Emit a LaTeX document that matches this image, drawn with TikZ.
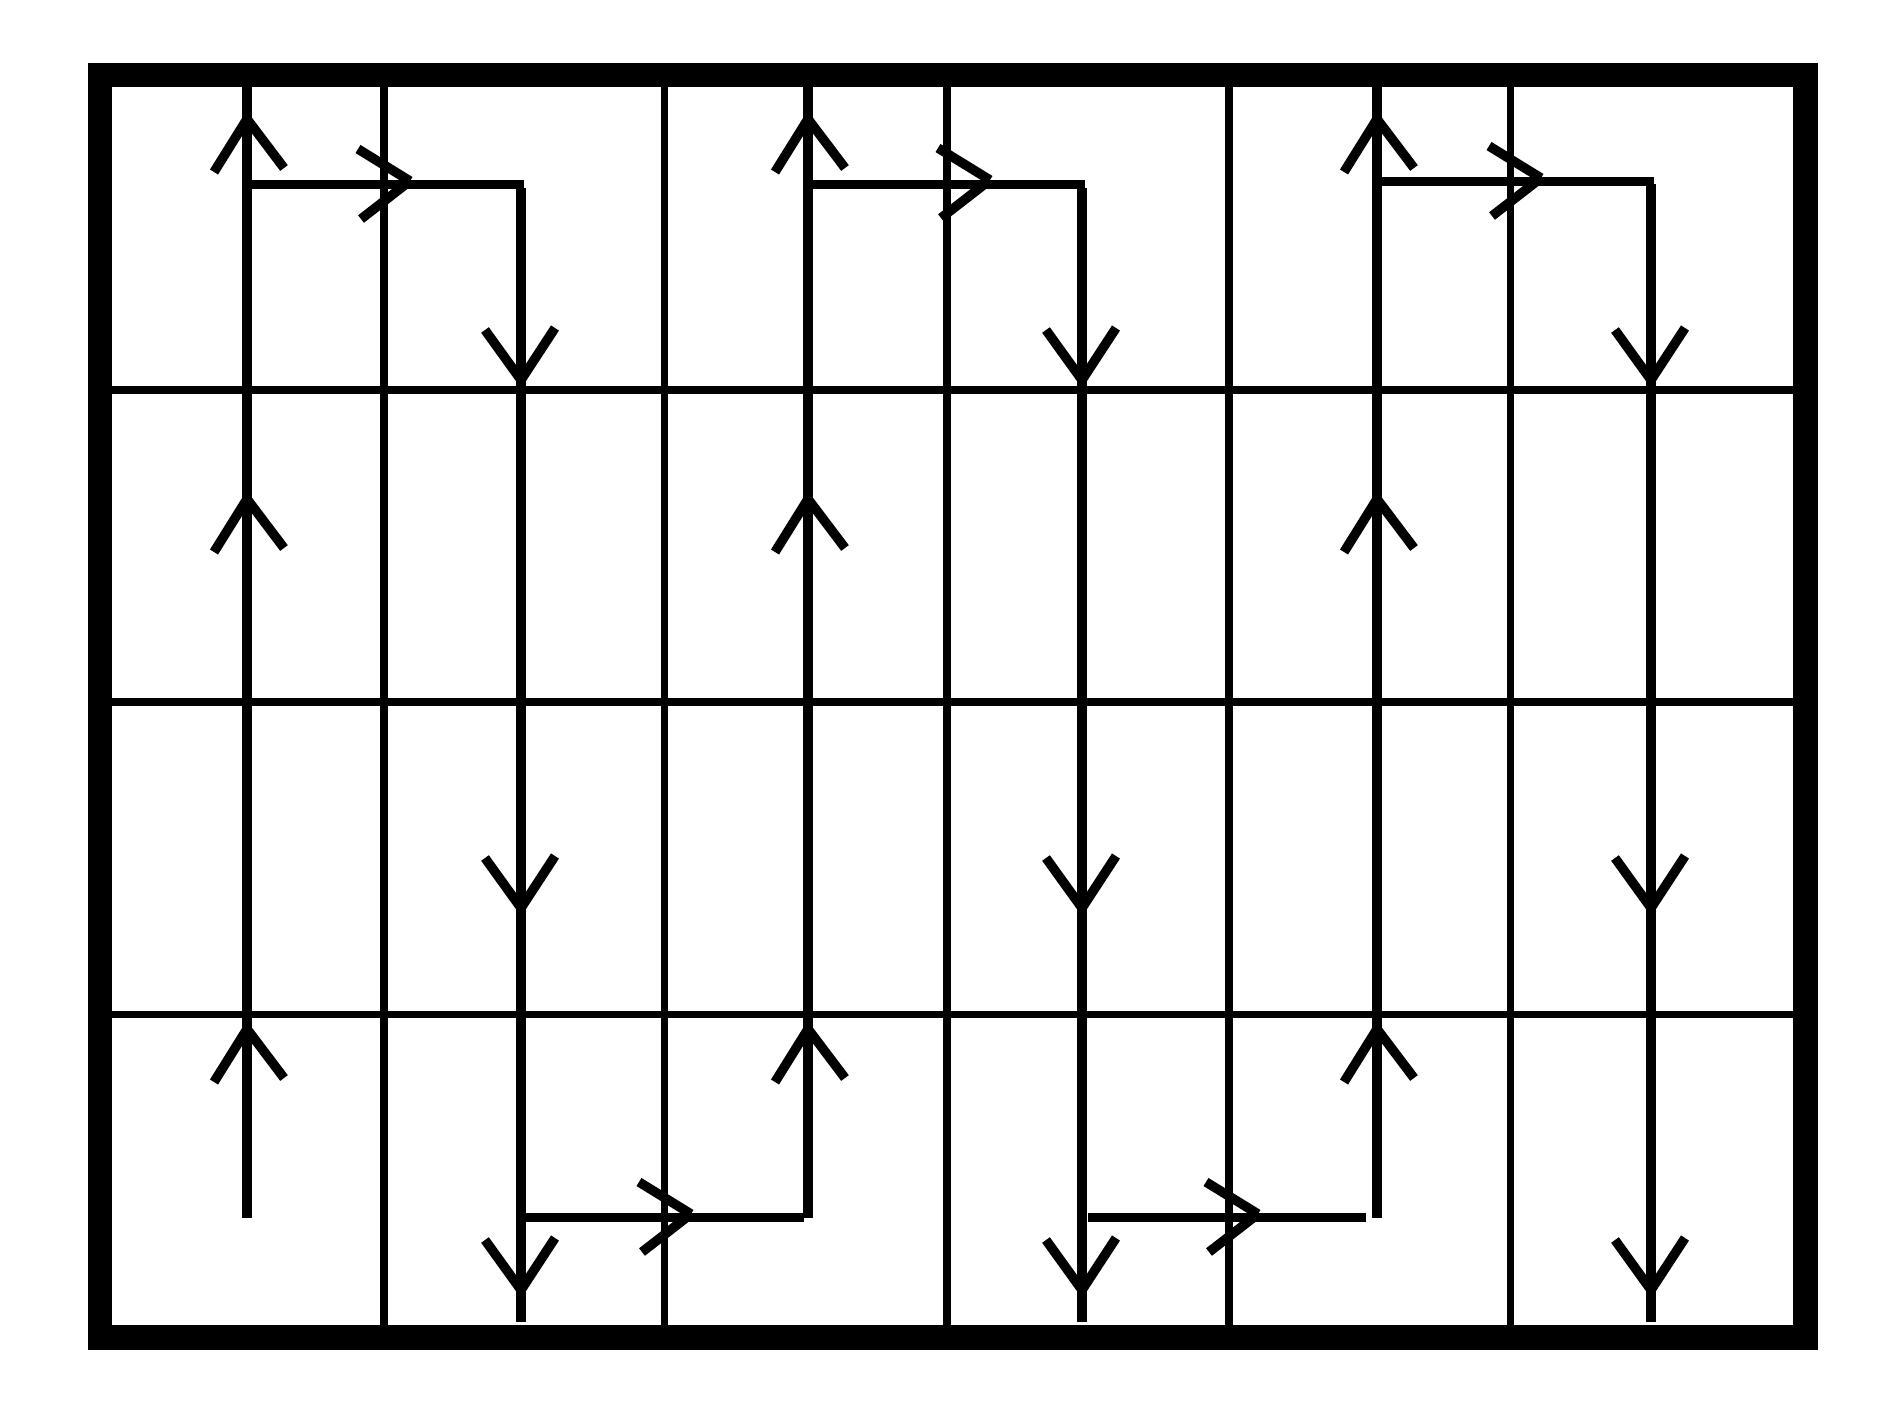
\documentclass[tikz,border=0pt]{standalone}
\begin{document}
\begin{tikzpicture}[x=0.01cm, y=-0.01cm,
      frame/.style={line width=7.1pt},
      gridline/.style={line width=2.05pt},
      trail/.style={line width=2.7pt},
      arm/.style={line width=2.7pt}]
    \useasboundingbox (0,0) rectangle (1890,1417);
    % grid
    \foreach \x in {384,664.5,947,1229,1510.7}
      \draw[gridline] (\x,75) -- (\x,1337.5);
    \foreach \y in {390,702,1014.7}
      \draw[gridline] (100,\y) -- (1805.5,\y);
    % meander
    \foreach \u/\d/\t in {247/521/184.7, 808/1082/184.7, 1377/1651/181.3}{
      \draw[trail] (\u,75) -- (\u,1217.5);
      \draw[trail] (\u,\t) -- (\d+3,\t);
      \draw[trail] (\d,\t+3) -- (\d,1322);
    }
    \draw[trail] (526,1217.5) -- (804,1217.5);
    \draw[trail] (1088,1217.5) -- (1366,1217.5);
    % arrowheads
    \foreach \x in {247,808,1377}
      \foreach \y in {119,499,1029}
        \draw[arm] (\x,\y) -- ++(-33,53) (\x,\y) -- ++(37,49);
    \foreach \x in {521,1082,1651}
      \foreach \y in {380,908,1290}
        \draw[arm] (\x,\y) -- ++(-36,-50) (\x,\y) -- ++(34,-52);
    \foreach \x/\y in {410/181, 990/180, 1541/178, 691/1214, 1258/1214}
      \draw[arm] (\x,\y) -- ++(-52,-32) (\x,\y) -- ++(-49,38);
    \draw[frame] (100,75) rectangle (1805.5,1337.5);
\end{tikzpicture}
\end{document}
